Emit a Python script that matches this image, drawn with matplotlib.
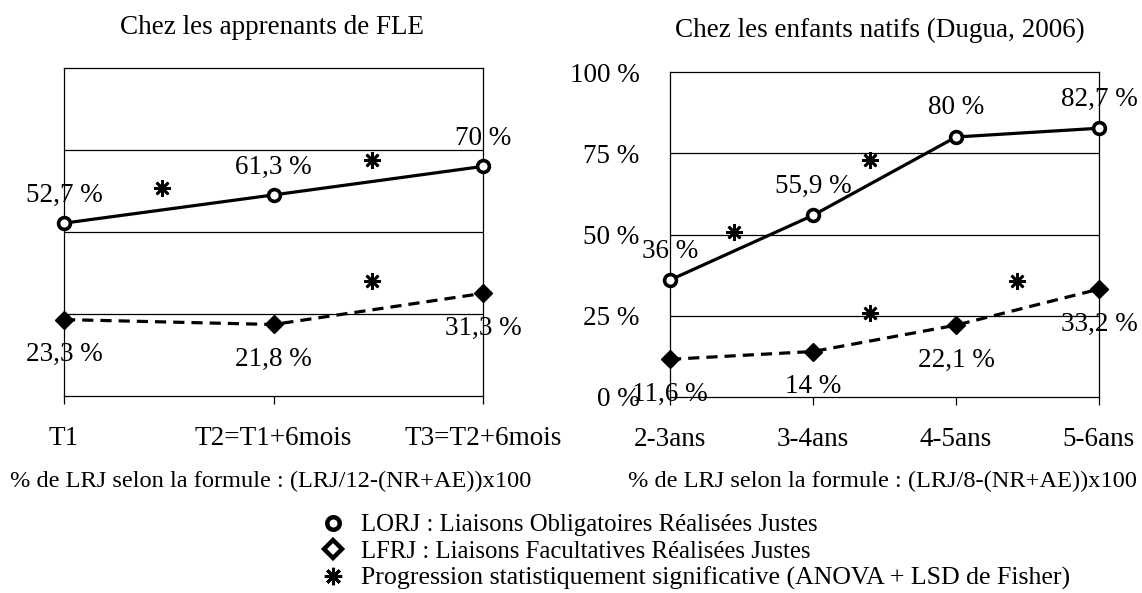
import matplotlib
matplotlib.use("Agg")
import matplotlib.pyplot as plt
from matplotlib.lines import Line2D

plt.rcParams['font.family'] = ['Liberation Serif', 'DejaVu Serif']

# ---- data ----
left_title = "Chez les apprenants de FLE"
left_categories = ["T1", "T2=T1+6mois", "T3=T2+6mois"]
left_lorj = [52.7, 61.3, 70.0]
left_lfrj = [23.3, 21.8, 31.3]
left_star_x = [0.47, 1.47, 1.47]
left_star_y = [63.5, 72.0, 35.0]
left_note = "% de LRJ selon la formule : (LRJ/12-(NR+AE))x100"

right_title = "Chez les enfants natifs (Dugua, 2006)"
right_categories = ["2-3ans", "3-4ans", "4-5ans", "5-6ans"]
right_lorj = [36.0, 55.9, 80.0, 82.7]
right_lfrj = [11.6, 14.0, 22.1, 33.2]
right_star_x = [0.45, 1.40, 1.40, 2.43]
right_star_y = [50.9, 72.9, 25.8, 35.7]
right_note = "% de LRJ selon la formule : (LRJ/8-(NR+AE))x100"

yticks = [0, 25, 50, 75, 100]
ytick_labels = ["0 %", "25 %", "50 %", "75 %", "100 %"]

legend_labels = ["LORJ : Liaisons Obligatoires Réalisées Justes",
                 "LFRJ : Liaisons Facultatives Réalisées Justes",
                 "Progression statistiquement significative (ANOVA + LSD de Fisher)"]

W, H = 1142, 593
fig = plt.figure(figsize=(W / 100, H / 100), dpi=100)

FS = 19.5
STAR = (8, 2, 0)


def fmt(v):
    return f"{v:g}".replace(".", ",") + " %"


def draw(ax, cats, lorj, lfrj, sx, sy, show_y, up, down):
    n = len(cats)
    x = list(range(n))
    ax.set_xlim(0, n - 1)
    ax.set_ylim(0, 100)
    for g in (25, 50, 75):
        ax.axhline(g, color="black", lw=0.9, zorder=1)
    ax.plot(x, lorj, color="black", lw=2.3, marker="o", ms=8.5, mfc="white",
            mec="black", mew=2.6, clip_on=False, zorder=4)
    ax.plot(x, lfrj, color="black", lw=2.3, ls=(0, (3.5, 2.2)), marker="D",
            ms=9.5, mfc="black", mec="black", clip_on=False, zorder=4)
    ax.plot(sx, sy, ls="none", marker=STAR, ms=12, mec="black", mew=1.9,
            clip_on=False, zorder=5)
    for xi, v in zip(x, lorj):
        ax.annotate(fmt(v), (xi, v), xytext=(0, up), textcoords="offset pixels",
                    ha="center", va="center", fontsize=FS, annotation_clip=False,
                    zorder=6)
    for xi, v in zip(x, lfrj):
        ax.annotate(fmt(v), (xi, v), xytext=(0, -down), textcoords="offset pixels",
                    ha="center", va="center", fontsize=FS, annotation_clip=False,
                    zorder=6)
    ax.set_xticks(x)
    ax.set_xticklabels(cats, fontsize=FS)
    ax.tick_params(axis="x", direction="out", length=5.5, width=0.9, pad=16)
    if show_y:
        ax.set_yticks(yticks)
        ax.set_yticklabels(ytick_labels, fontsize=FS)
        ax.tick_params(axis="y", length=0, pad=22)
    else:
        ax.set_yticks([])
    for s in ax.spines.values():
        s.set_linewidth(0.9)
        s.set_color("black")


axL = fig.add_axes([64 / W, 1 - 396 / H, (483 - 64) / W, (396 - 68) / H])
draw(axL, left_categories, left_lorj, left_lfrj, left_star_x, left_star_y,
     False, 28, 35)
axR = fig.add_axes([670 / W, 1 - 397 / H, (1099 - 670) / W, (397 - 72) / H])
draw(axR, right_categories, right_lorj, right_lfrj, right_star_x, right_star_y,
     True, 29, 35)

fig.text(272 / W, 1 - 27 / H, left_title, ha="center", va="center", fontsize=FS)
fig.text(880 / W, 1 - 30 / H, right_title, ha="center", va="center", fontsize=FS)
fig.text(271 / W, 1 - 481 / H, left_note, ha="center", va="center", fontsize=17.6)
fig.text(883 / W, 1 - 481 / H, right_note, ha="center", va="center", fontsize=17.6)

handles = [
    Line2D([], [], ls="none", marker="o", ms=9, mfc="white", mec="black", mew=3.2),
    Line2D([], [], ls="none", marker="D", ms=9, mfc="white", mec="black", mew=3.2),
    Line2D([], [], ls="none", marker=STAR, ms=12.5, mec="black", mew=2.2),
]
leg = fig.legend(handles, legend_labels, loc="upper left",
                 bbox_to_anchor=(323 / W, 1 - 514 / H), frameon=False,
                 fontsize=17.8, handlelength=0.8, handletextpad=0.75,
                 labelspacing=0.16, borderaxespad=0, borderpad=0)
leg.get_texts()[2].set_fontsize(18.6)

fig.savefig("out.png", dpi=100)
